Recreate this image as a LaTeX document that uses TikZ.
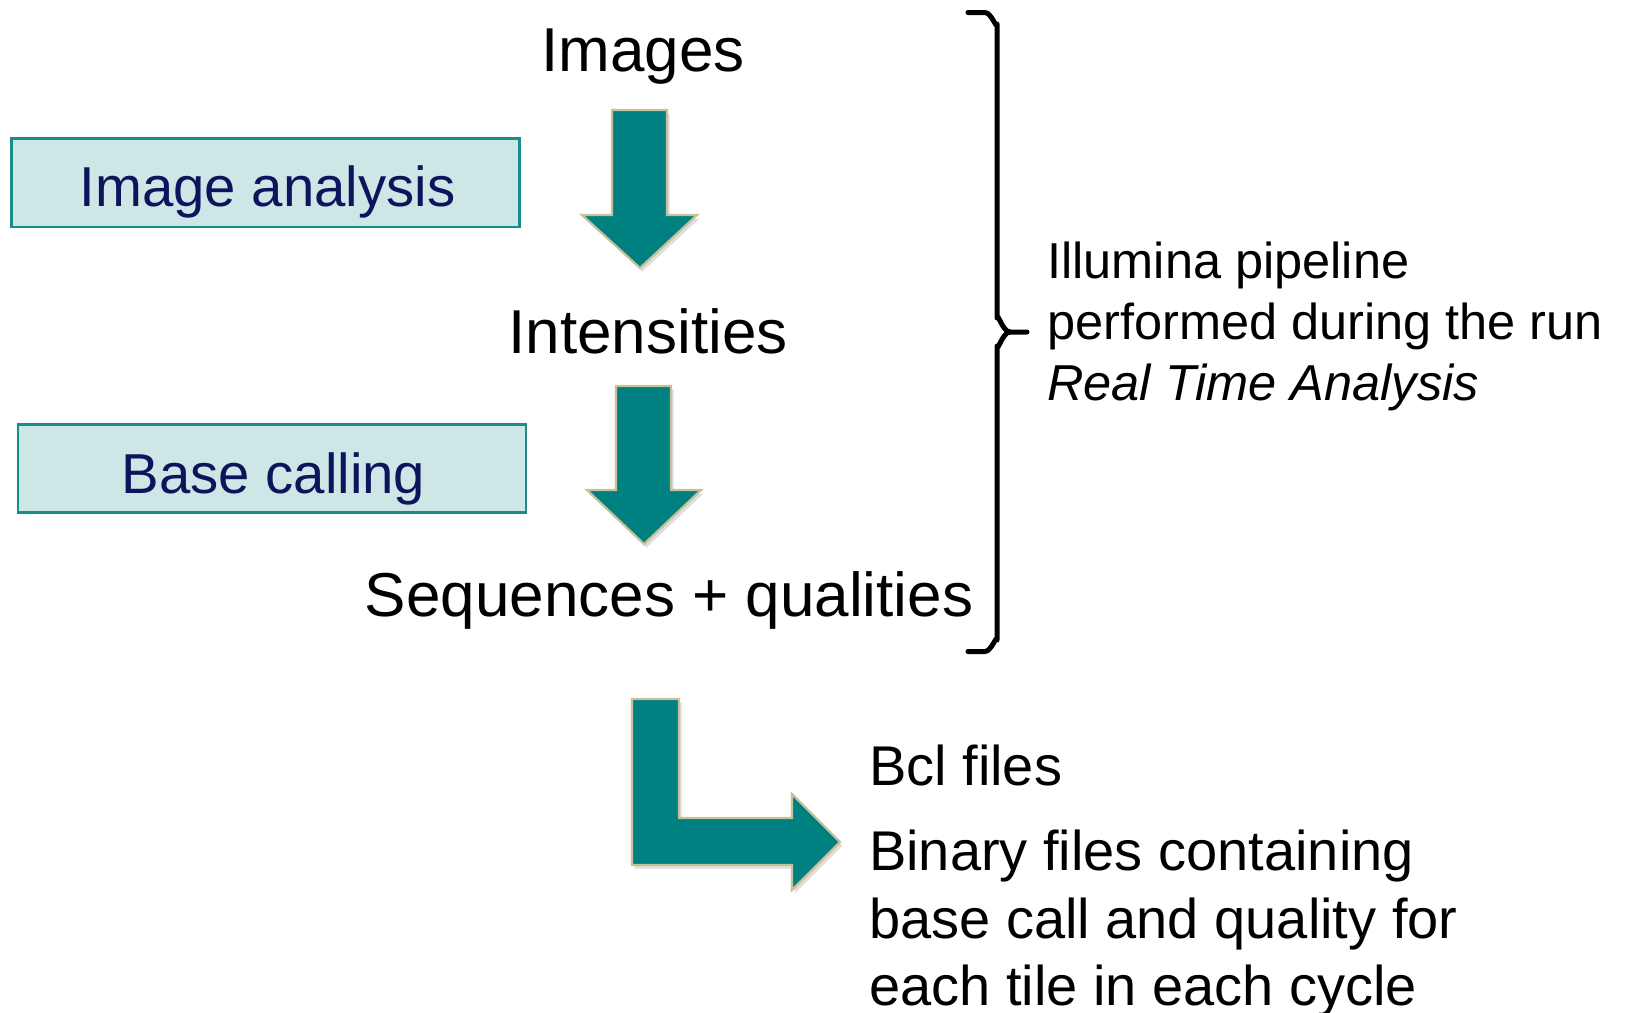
\documentclass[tikz,border=0pt]{standalone}
\usepackage{fontspec}
\setmainfont{Liberation Sans}
\usetikzlibrary{shadows}
\definecolor{arrowfill}{RGB}{0,128,128}
\definecolor{arrowline}{RGB}{200,192,150}
\definecolor{boxfill}{RGB}{205,230,230}
\definecolor{boxline}{RGB}{25,140,140}
\definecolor{boxtext}{RGB}{12,20,92}
\begin{document}
\begin{tikzpicture}[x=1pt,y=-1pt,
  maintext/.style={font=\fontsize{62}{74}\selectfont, inner sep=0pt, anchor=base},
  boxtxt/.style={font=\fontsize{56.3}{68}\selectfont, text=boxtext, inner sep=0pt, anchor=base},
  sidetext/.style={font=\fontsize{50.5}{61}\selectfont, inner sep=0pt, anchor=base west},
  filetext/.style={font=\fontsize{56}{68}\selectfont, inner sep=0pt, anchor=base west},
  stepbox/.style={draw=boxline, line width=2.5pt, fill=boxfill, inner sep=0pt},
  blockarrow/.style={fill=arrowfill, draw=arrowline, line width=2.2pt, line join=miter,
    drop shadow={shadow xshift=2.5pt, shadow yshift=-3.5pt, opacity=0.13, fill=black}},
  bracestyle/.style={draw=black, line width=5pt, line cap=round, line join=round}]
\useasboundingbox (0,0) rectangle (1627,1012);
\clip (0,0) rectangle (1627,1012);
\fill[white] (0,0) rectangle (1627,1012);

% boxes
\node[stepbox, minimum width=508pt, minimum height=88.5pt] (iabox) at (265.6,182.5) {};
\node[boxtxt] (ia) at (267.5,206.5) {Image analysis};
\node[stepbox, minimum width=508pt, minimum height=88.2pt] (bcbox) at (271.9,468.5) {};
\node[boxtxt] (bc) at (273.5,493) {Base calling};

% main texts
\node[maintext] (images) at (643,71) {Images};
\node[maintext] (intens) at (648,353) {Intensities};
\node[maintext] (seqs) at (669,616) {Sequences + qualities};

% block arrows
\path[blockarrow] (612,110) -- (667,110) -- (667,215) -- (697,215) -- (640,268)
  -- (582,215) -- (612,215) -- cycle;
\path[blockarrow] (616,386) -- (671,386) -- (671,490) -- (701,490) -- (644,544)
  -- (587,490) -- (616,490) -- cycle;
\path[blockarrow] (632,699) -- (679,699) -- (679,818) -- (792,818) -- (792,794)
  -- (840,842) -- (792,890) -- (792,865) -- (632,865) -- cycle;

% brace
\coordinate (bracetip) at (1027,332);
\draw[bracestyle] (968,12.5) -- (985,12.5) to[out=0,in=-90] (997,24) -- (997,318)
  to[out=90,in=180] (1010,332) -- (bracetip);
\draw[bracestyle] (1010,332) to[out=180,in=-90] (997,346) -- (997,640)
  to[out=90,in=0] (985,651.5) -- (968,651.5);

% side text
\node[sidetext] (l1) at (1047,278) {Illumina pipeline};
\node[sidetext] (l2) at (1047,339) {performed during the run};
\node[sidetext] (l3) at (1047,400) {\itshape Real Time Analysis};

% file text
\node[filetext] (f1) at (869,785) {Bcl files};
\node[filetext] (f2) at (869,870) {Binary files containing};
\node[filetext] (f3) at (869,938) {base call and quality for};
\node[filetext] (f4) at (869,1005) {each tile in each cycle};
\end{tikzpicture}
\end{document}
